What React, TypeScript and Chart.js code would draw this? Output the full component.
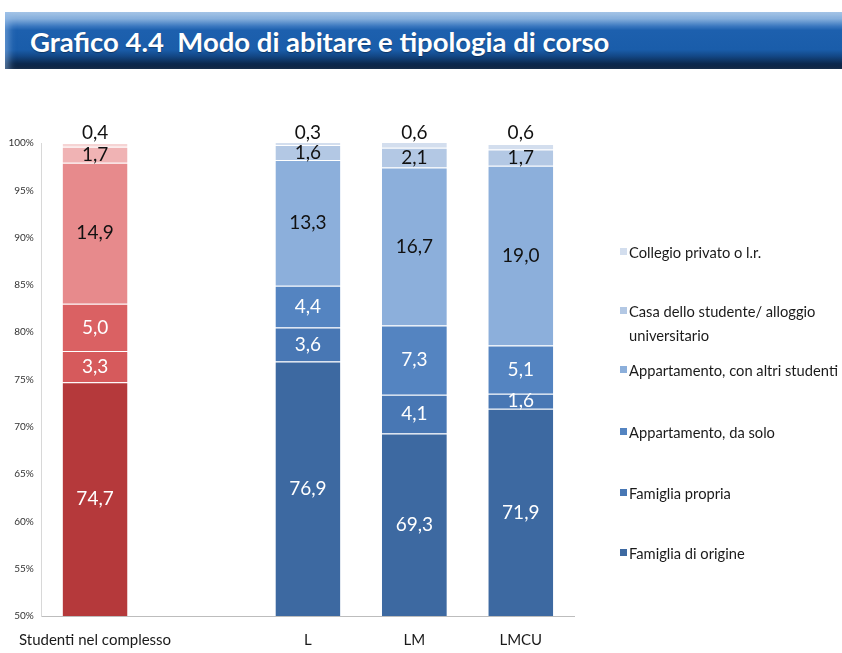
import React, { useEffect, useRef } from "react";
import { Chart, registerables } from "chart.js";
Chart.register(...registerables);

const title = "Grafico 4.4  Modo di abitare e tipologia di corso";
const categories = ["Studenti nel complesso", "", "L", "LM", "LMCU"];
const seriesNames = [
  "Famiglia di origine",
  "Famiglia propria",
  "Appartamento, da solo",
  "Appartamento, con altri studenti",
  "Casa dello studente/ alloggio universitario",
  "Collegio privato o l.r.",
];
const famigliaOrigine = [74.7, null, 76.9, 69.3, 71.9];
const famigliaPropria = [3.3, null, 3.6, 4.1, 1.6];
const appartamentoSolo = [5.0, null, 4.4, 7.3, 5.1];
const appartamentoAltri = [14.9, null, 13.3, 16.7, 19.0];
const casaStudente = [1.7, null, 1.6, 2.1, 1.7];
const collegio = [0.4, null, 0.3, 0.6, 0.6];
const yMin = 50;
const yMax = 100;
const yStep = 5;

const reds = ["#b5393b", "#d65a5c", "#da6163", "#e78a8c", "#f0b3b4", "#f6d4d4"];
const blues = ["#3d69a1", "#4877b4", "#5484c1", "#8cafdb", "#b3c8e4", "#d3deee"];
const labelColors = ["#ffffff", "#ffffff", "#ffffff", "#111111", "#111111", "#111111"];

const FONT = "Lato, 'Open Sans', sans-serif";

const labelPlugin = {
  id: "segLabels",
  afterDatasetsDraw(chart: any) {
    const ctx = chart.ctx;
    const area = chart.chartArea;
    const last = chart.data.datasets.length - 1;
    ctx.save();
    ctx.font = `19px ${FONT}`;
    ctx.textAlign = "center";
    ctx.textBaseline = "middle";
    chart.data.datasets.forEach((ds: any, di: number) => {
      const meta = chart.getDatasetMeta(di);
      meta.data.forEach((el: any, i: number) => {
        const v = ds.data[i];
        if (v == null) return;
        const p = el.getProps(["x", "y", "base"], true);
        const top = Math.max(Math.min(p.y, p.base), area.top);
        const bot = Math.min(Math.max(p.y, p.base), area.bottom);
        const y = di === last ? area.top - 10 : (top + bot) / 2;
        ctx.fillStyle = labelColors[di];
        ctx.fillText(v.toFixed(1).replace(".", ","), p.x, y);
      });
    });
    ctx.restore();
  },
};

export default function App() {
  const ref = useRef<HTMLCanvasElement>(null);
  useEffect(() => {
    const series = [famigliaOrigine, famigliaPropria, appartamentoSolo, appartamentoAltri, casaStudente, collegio];
    const chart = new Chart(ref.current!, {
      type: "bar",
      data: {
        labels: categories,
        datasets: series.map((d, i) => ({
          label: seriesNames[i],
          data: d,
          backgroundColor: categories.map((_, c) => (c === 0 ? reds[i] : blues[i])),
          borderColor: "rgba(255,255,255,0.85)",
          borderWidth: { top: 1, bottom: 0, left: 0, right: 0 },
          borderSkipped: false,
          categoryPercentage: 1,
          barPercentage: 0.61,
        })),
      },
      options: {
        responsive: false,
        animation: false,
        devicePixelRatio: 1,
        layout: { padding: { top: 143, left: 0, right: 268, bottom: 0 } },
        plugins: { legend: { display: false }, tooltip: { enabled: false } },
        scales: {
          x: {
            stacked: true,
            grid: { display: false, drawTicks: false },
            border: { display: true, color: "#bdbdbd", width: 1 },
            ticks: {
              autoSkip: false,
              maxRotation: 0,
              minRotation: 0,
              padding: 15,
              color: "#1a1a1a",
              font: { family: FONT, size: 15 },
            },
            afterFit: (s: any) => {
              s.height = 37;
            },
          },
          y: {
            stacked: true,
            min: yMin,
            max: yMax,
            grid: { display: false, drawTicks: false },
            border: { display: true, color: "#d8d8d8", width: 1 },
            ticks: {
              stepSize: yStep,
              padding: 8,
              color: "#333333",
              font: { family: FONT, size: 10 },
              callback: (v: any) => `${v}%`,
            },
            afterFit: (s: any) => {
              s.width = 40;
            },
          },
        },
      },
      plugins: [labelPlugin],
    });
    return () => chart.destroy();
  }, []);

  const legendItems = [
    { i: 5, lines: ["Collegio privato o l.r."], y: 252 },
    { i: 4, lines: ["Casa dello studente/ alloggio", "universitario"], y: 311 },
    { i: 3, lines: ["Appartamento, con altri studenti"], y: 370 },
    { i: 2, lines: ["Appartamento, da solo"], y: 432 },
    { i: 1, lines: ["Famiglia propria"], y: 493 },
    { i: 0, lines: ["Famiglia di origine"], y: 553 },
  ];

  return (
    <div style={{ position: "absolute", left: 0, top: 0, width: 842, height: 653, background: "#fff", overflow: "hidden" }}>
      <div
        style={{
          position: "absolute",
          left: 5,
          top: 12,
          width: 837,
          height: 57,
          background:
            "linear-gradient(to bottom, #a6c5e6 0%, #86afdc 12%, #3a77bf 25%, #1d60ae 32%, #1a5daa 66%, #134887 77%, #0c2a50 90%, #091d38 100%)",
          boxShadow: "inset 7px 0 7px -3px rgba(150,190,235,0.55)",
        }}
      />
      <div
        style={{
          position: "absolute",
          left: 30,
          top: 25,
          color: "#ffffff",
          fontFamily: FONT,
          fontWeight: 700,
          fontSize: 27.5,
          lineHeight: "33px",
          whiteSpace: "pre",
          textShadow: "0 1px 1px rgba(0,0,0,0.35)",
        }}
      >
        {title}
      </div>
      <canvas ref={ref} width={842} height={653} style={{ position: "absolute", left: 0, top: 0, width: 842, height: 653 }} />
      {legendItems.map((it) => (
        <React.Fragment key={it.i}>
          <div
            style={{
              position: "absolute",
              left: 620,
              top: it.y - 4,
              width: 7,
              height: 7,
              background: blues[it.i],
            }}
          />
          {it.lines.map((ln, k) => (
            <div
              key={k}
              style={{
                position: "absolute",
                left: 629,
                top: it.y - 10 + k * 24,
                fontFamily: FONT,
                fontSize: 14.7,
                lineHeight: "20px",
                color: "#1a1a1a",
                whiteSpace: "pre",
              }}
            >
              {ln}
            </div>
          ))}
        </React.Fragment>
      ))}
    </div>
  );
}
